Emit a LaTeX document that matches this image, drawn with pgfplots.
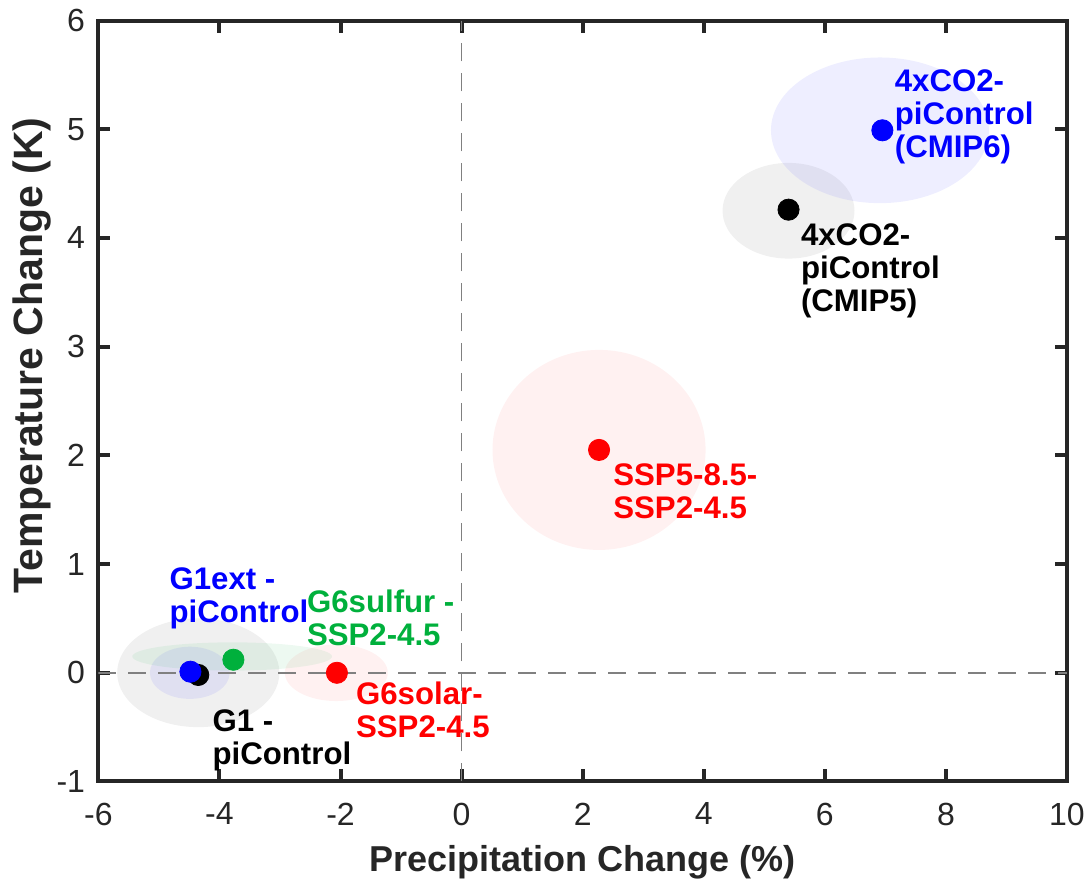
\documentclass[border=0pt]{standalone}
\usepackage{fontspec}
\setmainfont{Liberation Sans}
\usepackage{pgfplots}
\pgfplotsset{compat=1.18}
\definecolor{axgray}{RGB}{38,38,38}
\definecolor{mygreen}{RGB}{0,176,60}
\begin{document}
\begin{tikzpicture}
\begin{axis}[
  scale only axis, width=484.3pt, height=380.5pt,
  xmin=-6, xmax=10, ymin=-1, ymax=6,
  xtick={-6,-4,-2,0,2,4,6,8,10}, ytick={-1,0,1,2,3,4,5,6},
  axis line style={axgray, line width=2pt},
  tick style={axgray, line width=2pt},
  major tick length=6pt,
  tick align=inside, tick pos=both,
  /pgf/number format/assume math mode=true,
  ticklabel style={font=\fontsize{16}{19}\selectfont, text=axgray},
  xticklabel style={inner sep=0pt, anchor=north, yshift=-10.5pt},
  yticklabel style={inner sep=0pt, anchor=east, xshift=-6.5pt},
  xlabel={Precipitation Change (\%)},
  ylabel={Temperature Change (K)},
  xlabel style={at={(axis description cs:0.5,0)}, anchor=north, inner sep=0pt, yshift=-32pt, font=\fontsize{18}{20}\selectfont\bfseries, text=axgray},
  ylabel style={at={(axis description cs:0,0.56)}, anchor=north, inner sep=0pt, yshift=43pt, font=\fontsize{20.5}{22}\selectfont\bfseries, text=axgray},
]
% spread ellipses
\fill[black, fill opacity=0.06] (axis cs:5.40,4.25) ellipse [x radius=1.09, y radius=0.44];
\fill[blue, fill opacity=0.065] (axis cs:6.91,4.99) ellipse [x radius=1.80, y radius=0.67];
\fill[red, fill opacity=0.055] (axis cs:2.27,2.05) ellipse [x radius=1.76, y radius=0.92];
\fill[black, fill opacity=0.06] (axis cs:-4.35,0.00) ellipse [x radius=1.34, y radius=0.50];
\fill[blue, fill opacity=0.065] (axis cs:-4.49,0.00) ellipse [x radius=0.66, y radius=0.24];
\fill[red, fill opacity=0.055] (axis cs:-2.07,0.00) ellipse [x radius=0.85, y radius=0.26];
\fill[mygreen, fill opacity=0.07] (axis cs:-3.79,0.15) ellipse [x radius=1.65, y radius=0.13];
% zero lines
\addplot[gray, line width=0.75pt, dash pattern=on 9pt off 6pt] coordinates {(0,-1) (0,6)};
\addplot[gray, line width=0.75pt, dash pattern=on 9pt off 6pt] coordinates {(-6,0) (10,0)};
% means
\addplot[only marks, mark=*, mark size=5.3pt, black, mark options={draw=none, fill=black}] coordinates {(5.40,4.26)};
\addplot[only marks, mark=*, mark size=5.3pt, blue, mark options={draw=none, fill=blue}] coordinates {(6.95,4.99)};
\addplot[only marks, mark=*, mark size=5.3pt, red, mark options={draw=none, fill=red}] coordinates {(2.27,2.05)};
\addplot[only marks, mark=*, mark size=5.3pt, black, mark options={draw=none, fill=black}] coordinates {(-4.35,-0.02)};
\addplot[only marks, mark=*, mark size=5.3pt, blue, mark options={draw=none, fill=blue}] coordinates {(-4.48,0.01)};
\addplot[only marks, mark=*, mark size=5.3pt, mygreen, mark options={draw=none, fill=mygreen}] coordinates {(-3.77,0.12)};
\addplot[only marks, mark=*, mark size=5.3pt, red, mark options={draw=none, fill=red}] coordinates {(-2.06,0.00)};
% labels
\tikzset{lab/.style={anchor=north west, inner sep=0pt, align=left, font=\fontsize{15.6}{16.5}\selectfont\bfseries}}
\node[lab, text=blue] at (axis cs:7.15,5.55) {4xCO2-\\piControl\\(CMIP6)};
\node[lab, text=black] at (axis cs:5.60,4.13) {4xCO2-\\piControl\\(CMIP5)};
\node[lab, text=red] at (axis cs:2.50,1.925) {SSP5-8.5-\\SSP2-4.5};
\node[lab, text=red] at (axis cs:-1.75,-0.08) {G6solar-\\SSP2-4.5};
\node[lab, text=black] at (axis cs:-4.12,-0.34) {G1 -\\piControl};
\node[lab, text=blue] at (axis cs:-4.83,0.97) {G1ext -\\piControl};
\node[lab, text=mygreen] at (axis cs:-2.56,0.77) {G6sulfur -\\SSP2-4.5};
\end{axis}
\pgfresetboundingbox
\path ([xshift=-49.2pt,yshift=-50.5pt]current axis.south west) rectangle ([xshift=10.5pt,yshift=10.25pt]current axis.north east);
\end{tikzpicture}
\end{document}
